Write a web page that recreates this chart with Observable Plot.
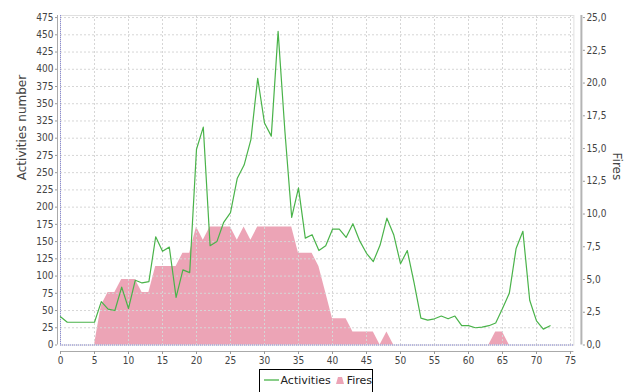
<!DOCTYPE html>
<html><head><meta charset="utf-8">
<script src="https://cdn.jsdelivr.net/npm/d3@7"></script>
<script src="https://cdn.jsdelivr.net/npm/@observablehq/plot@0.6"></script>
<style>
body{margin:0;background:#fff;}
#wrap{width:628px;height:392px;position:relative;overflow:hidden;background:#fff;}
#legend{position:absolute;left:259px;top:369px;width:114px;height:26px;border:1px solid #000;box-sizing:border-box;background:#fff;
 font-family:"DejaVu Sans",sans-serif;font-size:11px;color:#222;display:flex;align-items:center;padding:0 0 4px 3px;}
#legend svg{display:block}
</style></head>
<body><div id="wrap"></div>
<script>
const days = d3.range(0, 73);
const activities = [41,33,33,33,33,33,63,52,50,84,53,94,90,92,157,136,142,69,109,105,
  284,316,144,150,178,192,242,261,298,387,322,303,455,310,185,228,155,160,137,144,
  168,168,156,176,151,133,121,145,184,160,118,137,90,39,36,38,42,38,42,28,
  28,25,26,28,32,53,75,140,165,65,35,23,28];
const fires = [0,0,0,0,0,0,3,4,4,5,5,5,4,4,6,6,6,6,7,7,
  9,8,9,9,9,9,8,9,8,9,9,9,9,9,9,7,7,7,6,4,
  2,2,2,1,1,1,1,0,1,0,0,0,0,0,0,0,0,0,0,0,
  0,0,0,0,1,1,0,0,0,0,0,0,0];
const xTicks = d3.range(0, 76, 5);
const leftTicks = d3.range(0, 476, 25);
const rightTicks = [0, 2.5, 5, 7.5, 10, 12.5, 15, 17.5, 20, 22.5, 25];
const ratio = 475 / 25;

const data = days.map((d, i) => ({day: d, act: activities[i], fire: fires[i] * ratio}));
const tickFont = {fontFamily: "'Liberation Sans Narrow','DejaVu Sans Condensed','DejaVu Sans',sans-serif", fontSize: 10, fill: "#444"};
const grid = {stroke: "#d6d6d6", strokeOpacity: 1, strokeDasharray: "2,2", strokeWidth: 1};

const chart = Plot.plot({
  width: 628, height: 366,
  marginLeft: 60, marginRight: 54.6, marginTop: 15, marginBottom: 21.5,
  x: {domain: [0, 75.5]},
  y: {domain: [0, 478]},
  style: {background: "#fff", fontFamily: "'DejaVu Sans',sans-serif"},
  marks: [
    Plot.frame({stroke: "#e0e0e0"}),
    Plot.areaY(data, {x: "day", y: "fire", fill: "#d9496d", fillOpacity: 0.5}),
    Plot.gridX(xTicks, grid),
    Plot.gridY(leftTicks, grid),
    Plot.ruleY([0], {stroke: "#8a8ad8", strokeDasharray: "1,1"}),
    Plot.ruleX([0], {stroke: "#8a8ad8", strokeDasharray: "1,1"}),
    Plot.lineY(data, {x: "day", y: "act", stroke: "#4ab34a", strokeWidth: 1.2}),
    // left axis
    Plot.ruleX([0], {dx: -3, stroke: "#aaa"}),
    Plot.axisY(leftTicks, {anchor: "left", dx: -3, tickSize: 2, tickPadding: 2, stroke: "#999", label: null, ...tickFont}),
    // bottom axis
    Plot.ruleY([0], {dy: 6.5, stroke: "#aaa"}),
    Plot.axisX(xTicks, {anchor: "bottom", dy: 6.5, tickSize: 3, tickPadding: 2.5, stroke: "#999", label: null, ...tickFont}),
    // right axis (Fires)
    Plot.ruleX([75.5], {dx: 7.5, stroke: "#b4b4b4", strokeWidth: 2}),
    Plot.axisY(rightTicks.map(v => v * ratio), {anchor: "right", dx: 8.5, tickSize: 2, tickPadding: 2, stroke: "#999", label: null,
      tickFormat: v => (v / ratio).toFixed(1).replace(".", ","), ...tickFont}),
    // axis titles
    Plot.text(["Activities number"], {frameAnchor: "left", rotate: -90, dx: -38, fontSize: 12, fill: "#444", fontFamily: "'DejaVu Sans',sans-serif"}),
    Plot.text(["Fires"], {frameAnchor: "right", rotate: 90, dx: 43, fontSize: 12, fill: "#444", fontFamily: "'DejaVu Sans',sans-serif"})
  ]
});
const wrap = document.getElementById("wrap");
wrap.appendChild(chart);

const legend = document.createElement("div");
legend.id = "legend";
legend.innerHTML =
  '<svg width="17" height="10"><line x1="1" y1="5" x2="16" y2="5" stroke="#4ab34a" stroke-width="1.3"/></svg>' +
  '<span style="margin-left:2px">Activities</span>' +
  '<svg width="12" height="10" style="margin-left:4px"><path d="M1,9 L3,2 L7,2 L9,9 Z" fill="#d9496d" fill-opacity="0.5"/></svg>' +
  '<span style="margin-left:1px">Fires</span>';
wrap.appendChild(legend);
</script>
</body></html>
